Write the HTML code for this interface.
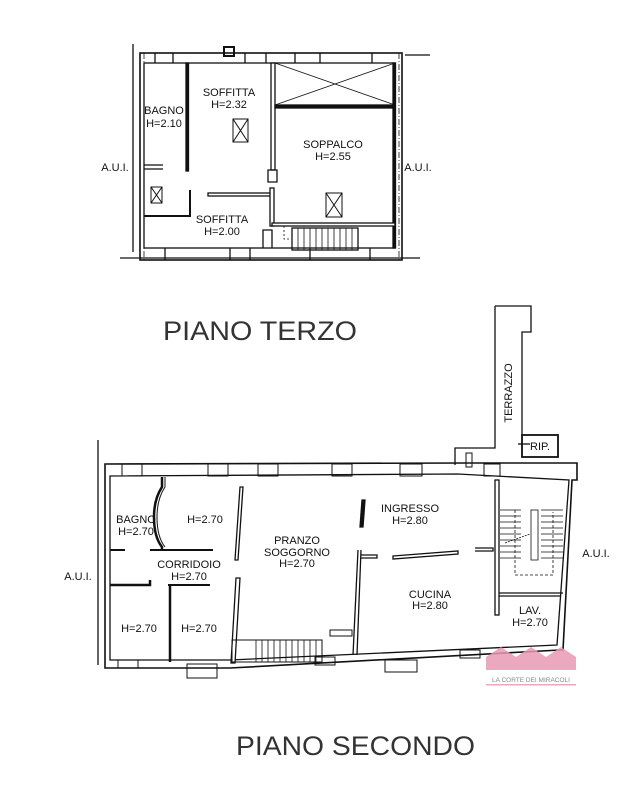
<!DOCTYPE html>
<html><head><meta charset="utf-8"><style>
html,body{margin:0;padding:0;background:#fff;}
svg{display:block}
text{font-family:"Liberation Sans",sans-serif;fill:#111}
.l{font-size:11px;text-anchor:middle}
.t{font-size:27px;font-weight:normal;fill:#333}
</style></head><body>
<svg width="638" height="800" viewBox="0 0 638 800" xmlns="http://www.w3.org/2000/svg">
<g fill="none" stroke="#111" stroke-width="1.3">
<!-- ===== PIANO TERZO ===== -->
<line x1="133" y1="44" x2="133" y2="252"/>
<line x1="405" y1="55" x2="430" y2="55"/>
<line x1="120" y1="258" x2="420" y2="258"/>
<rect x="140" y="53" width="262" height="207" stroke-width="1.6"/>
<rect x="144" y="63" width="251" height="185"/>
<line x1="144" y1="53" x2="144" y2="260" stroke-dasharray="6,2,1,2" stroke-width="0.8"/>
<line x1="399" y1="53" x2="399" y2="260" stroke-dasharray="6,2,1,2" stroke-width="0.8"/>
<rect x="224" y="47" width="10" height="9" stroke-width="2"/>
<line x1="155" y1="53" x2="155" y2="63"/><line x1="173" y1="53" x2="173" y2="63"/>
<line x1="245" y1="53" x2="245" y2="63"/><line x1="266" y1="53" x2="266" y2="63"/>
<line x1="295" y1="53" x2="295" y2="63"/><line x1="320" y1="53" x2="320" y2="63"/>
<line x1="372" y1="53" x2="372" y2="63"/>
<line x1="165" y1="248" x2="165" y2="260"/><line x1="230" y1="248" x2="230" y2="260"/>
<line x1="250" y1="248" x2="250" y2="260"/><line x1="310" y1="248" x2="310" y2="260"/>
<line x1="370" y1="248" x2="370" y2="260"/>
<rect x="186" y="63" width="2.5" height="108" fill="#111"/>
<rect x="271" y="63" width="4" height="107" fill="#fff"/>
<path d="M268 170 h9 v12 h-9 z" />
<line x1="144" y1="165" x2="163" y2="165"/><line x1="144" y1="169" x2="163" y2="169"/>
<rect x="208" y="193" width="63" height="3" fill="#fff"/>
<rect x="270" y="188" width="4" height="38" fill="#fff"/>
<path d="M144 216 h46 v-26" stroke-width="2"/>
<rect x="275" y="105" width="120" height="3" fill="#111"/>
<line x1="275" y1="63" x2="395" y2="105" stroke-width="0.8"/>
<line x1="395" y1="63" x2="275" y2="105" stroke-width="0.8"/>
<rect x="393" y="63" width="2.5" height="185" fill="#111"/>
<rect x="272" y="223" width="123" height="3" fill="#fff"/>
<path d="M263 248 v-18 h9 v18"/>
<rect x="292" y="228" width="66" height="22"/>
<g stroke-width="0.8">
<line x1="298" y1="228" x2="298" y2="250"/><line x1="304" y1="228" x2="304" y2="250"/>
<line x1="310" y1="228" x2="310" y2="250"/><line x1="316" y1="228" x2="316" y2="250"/>
<line x1="322" y1="228" x2="322" y2="250"/><line x1="328" y1="228" x2="328" y2="250"/>
<line x1="334" y1="228" x2="334" y2="250"/><line x1="340" y1="228" x2="340" y2="250"/>
<line x1="346" y1="228" x2="346" y2="250"/><line x1="352" y1="228" x2="352" y2="250"/>
<path d="M284 226 v13 h6" stroke-dasharray="2,2"/>
</g>
<g stroke-width="1">
<rect x="233" y="119" width="15" height="23"/><path d="M233 119 L248 142 M248 119 L233 142"/>
<rect x="151" y="187" width="11" height="16"/><path d="M151 187 L162 203 M162 187 L151 203"/>
<rect x="326" y="193" width="16" height="24"/><path d="M326 193 L342 217 M342 193 L326 217"/>
</g>

<!-- ===== PIANO SECONDO ===== -->
<line x1="98" y1="440" x2="98" y2="665"/>
<path d="M495 306 H531 V332 H522 V435"/>
<path d="M495 306 V448 H455 V465"/>
<rect x="522" y="435" width="36" height="22" stroke-width="1.8"/>
<line x1="518" y1="444" x2="530" y2="444"/>
<path d="M105 464 L468 463 L577 463 L577 480 L572 480 L563 650 L560 650 L230 668 L105 668 Z" stroke-width="1.6"/>
<path d="M110 476 L458 474 L569 480 L557 645 L230 660 L110 660 Z"/>
<line x1="110" y1="476" x2="110" y2="660" stroke-dasharray="6,2,1,2" stroke-width="0.8"/>
<g stroke-width="1">
<rect x="122" y="464" width="20" height="12"/><rect x="208" y="464" width="20" height="12"/>
<rect x="258" y="464" width="20" height="12"/><rect x="332" y="464" width="20" height="12"/>
<rect x="400" y="464" width="22" height="12"/>
<rect x="484" y="464" width="16" height="12"/><rect x="466" y="453" width="6" height="14"/>
<rect x="187" y="664" width="30" height="14"/><rect x="385" y="660" width="32" height="12"/>
<rect x="118" y="660" width="20" height="8"/><rect x="315" y="657" width="20" height="8"/>
<rect x="460" y="650" width="20" height="8"/>
</g>
<path d="M162 477 v10 q-8 12 -8 30 q0 20 8 30 v3" stroke-width="2.5"/>
<path d="M165 477 v10 q-8 12 -8 30 q0 20 8 30" stroke-width="1"/>
<path d="M110 550 h15 M150 550 h63" stroke-width="2"/>
<path d="M110 585 h40 v-5" stroke-width="2.5"/>
<path d="M168 585 h42" stroke-width="2"/>
<line x1="170" y1="585" x2="170" y2="662" stroke-width="2.5"/>
<path d="M240 487 L235 560 L238 560 L243 487 Z" fill="#fff"/>
<path d="M236 578 L231 663 L235 663 L240 578 Z" fill="#fff"/>
<path d="M362 500 L360 527 L363 527 L365 500 Z" fill="#111"/>
<path d="M358 550 L353 655 M361 550 L357 655" />
<path d="M361 555 h16 v3 h-16"/>
<path d="M393 556 L458 551 L458 554 L393 559 Z" fill="#fff"/>
<path d="M475 548 h18 v3 h-18" />
<rect x="495" y="480" width="4" height="135" fill="#fff"/>
<path d="M499 593 h64"/><path d="M499 596 h62"/>
<g stroke-width="0.8">
<path d="M500 510 h21 M500 516 h21 M500 522 h21 M500 528 h21 M500 534 h21 M500 540 h21 M500 546 h21 M500 552 h21 M500 558 h21"/>
<path d="M541 510 h22 M541 516 h22 M541 522 h22 M541 528 h22 M541 534 h22 M541 540 h22 M541 546 h22 M541 552 h22 M541 558 h22"/>
<rect x="531" y="510" width="7" height="50"/>
<path d="M515 510 V575 H553 V512" stroke-dasharray="3,2"/>
<path d="M505 543 L530 534" stroke-dasharray="2,1"/>
</g>
<rect x="232" y="640" width="90" height="22" stroke-width="1"/>
<g stroke-width="0.8">
<path d="M256 640 v22 M262 640 v22 M268 640 v22 M274 640 v22 M280 640 v22 M286 640 v22 M292 640 v22 M298 640 v22 M304 640 v22 M310 640 v22 M316 640 v22"/>
</g>
<rect x="330" y="630" width="22" height="6" stroke-width="1"/>
</g>

<text class="l" x="164" y="114">BAGNO</text><text class="l" x="164" y="127">H=2.10</text>
<text class="l" x="229" y="96">SOFFITTA</text><text class="l" x="229" y="108">H=2.32</text>
<text class="l" x="333" y="148">SOPPALCO</text><text class="l" x="333" y="160">H=2.55</text>
<text class="l" x="222" y="223">SOFFITTA</text><text class="l" x="222" y="235">H=2.00</text>
<text class="l" x="115" y="171">A.U.I.</text><text class="l" x="418" y="171">A.U.I.</text>
<text class="t" x="163" y="340" textLength="194" lengthAdjust="spacingAndGlyphs">PIANO  TERZO</text>

<text class="l" x="136" y="523">BAGNO</text><text class="l" x="136" y="535">H=2.70</text>
<text class="l" x="205" y="523">H=2.70</text>
<text class="l" x="297" y="544">PRANZO</text><text class="l" x="297" y="556">SOGGORNO</text><text class="l" x="297" y="567">H=2.70</text>
<text class="l" x="410" y="512">INGRESSO</text><text class="l" x="410" y="524">H=2.80</text>
<text class="l" x="189" y="568">CORRIDOIO</text><text class="l" x="189" y="580">H=2.70</text>
<text class="l" x="430" y="598">CUCINA</text><text class="l" x="430" y="609">H=2.80</text>
<text class="l" x="139" y="632">H=2.70</text><text class="l" x="199" y="632">H=2.70</text>
<text class="l" x="530" y="614">LAV.</text><text class="l" x="530" y="626">H=2.70</text>
<text class="l" x="78" y="580">A.U.I.</text><text class="l" x="596" y="557">A.U.I.</text>
<text class="l" x="540" y="450">RIP.</text>
<text class="l" transform="translate(512,393) rotate(-90)">TERRAZZO</text>
<text class="t" x="236" y="755" textLength="239" lengthAdjust="spacingAndGlyphs">PIANO  SECONDO</text>

<g fill="#e89ab5" opacity="0.85">
<path d="M486 670 V657 L501 647 L516 657 V670 Z"/>
<path d="M516 670 V657 L531 647 L546 657 V670 Z"/>
<path d="M546 670 V657 L561 647 L576 657 V670 Z"/>
<rect x="486" y="684" width="90" height="1.5"/>
</g>
<text x="531" y="682" style="font-size:6.5px;text-anchor:middle;fill:#888">LA CORTE DEI MIRACOLI</text>
</svg>
</body></html>
